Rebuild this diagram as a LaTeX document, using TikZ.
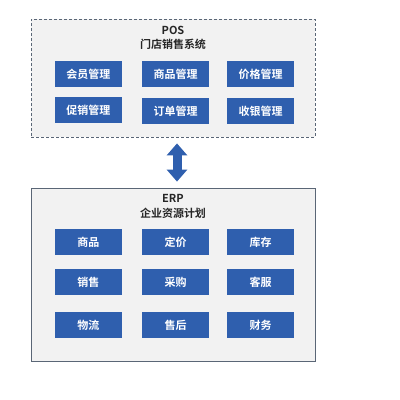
\documentclass[tikz,border=0pt]{standalone}
\usepackage{fontspec}
\setmainfont{Noto Sans CJK SC}[BoldFont={Noto Sans CJK SC Bold}]
\usetikzlibrary{arrows.meta}
\definecolor{bblue}{HTML}{2F5FAE}
\definecolor{panel}{HTML}{F2F2F2}
\definecolor{edge}{HTML}{5A6676}
\tikzset{
  panelbox/.style={fill=panel, draw=edge, line width=0.8pt},
  mod/.style={fill=bblue, minimum width=67pt, minimum height=26pt, inner sep=0pt,
    text=white, font=\fontsize{11}{12}\selectfont\bfseries},
  ttl/.style={font=\fontsize{11}{12}\selectfont\bfseries, text=black!85, inner sep=0pt},
}
\begin{document}
\begin{tikzpicture}[x=1pt,y=-1pt]
\useasboundingbox (0,0) rectangle (400,400);
\node[panelbox, dashed, dash pattern=on 3pt off 2pt, minimum width=284pt, minimum height=118pt, inner sep=0pt] (pos) at (173,78) {};
\node[ttl] (post) at (173,30) {POS};
\node[ttl] (poss) at (173,44) {门店销售系统};
\node[mod] (p1) at (88.5,74) {会员管理};
\node[mod] (p2) at (175.5,74) {商品管理};
\node[mod] (p3) at (260.5,74) {价格管理};
\node[mod] (p4) at (88.5,110) {促销管理};
\node[mod] (p5) at (175.5,111) {订单管理};
\node[mod] (p6) at (260.5,111) {收银管理};

\node[panelbox, minimum width=284pt, minimum height=173pt, inner sep=0pt] (erp) at (173,274.5) {};
\node[ttl] (erpt) at (173,198) {ERP};
\node[ttl] (erps) at (173,213) {企业资源计划};
\node[mod] (e1) at (88.5,242) {商品};
\node[mod] (e2) at (175.5,242) {定价};
\node[mod] (e3) at (260.5,242) {库存};
\node[mod] (e4) at (88.5,282) {销售};
\node[mod] (e5) at (175.5,282) {采购};
\node[mod] (e6) at (260.5,282) {客服};
\node[mod] (e7) at (88.5,325) {物流};
\node[mod] (e8) at (175.5,325) {售后};
\node[mod] (e9) at (260.5,325) {财务};

\draw[bblue, line width=9pt, shorten <=6pt, shorten >=6pt,
  {Triangle[width=20pt,length=12pt]}-{Triangle[width=20pt,length=12pt]}]
  ([xshift=4pt]pos.south) -- ([xshift=4pt]erp.north);
\end{tikzpicture}
\end{document}
